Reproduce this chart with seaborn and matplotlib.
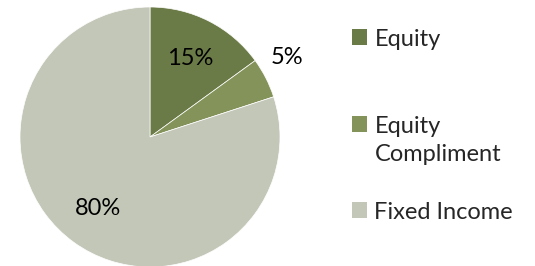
import numpy as np
import matplotlib.pyplot as plt
import seaborn as sns
from matplotlib.patches import Patch

# data
labels = ['Equity', 'Equity\nCompliment', 'Fixed Income']
shares = [15, 5, 80]
colors = ['#6b7b47', '#84935a', '#c3c7b8']

sns.set_theme(style='white')
plt.rcParams['font.family'] = ['Lato', 'DejaVu Sans']

fig = plt.figure(figsize=(5.35, 2.66), dpi=100)
ax = fig.add_axes([20 / 535, -1 / 266, 260 / 535, 260 / 266])

wedges, texts, autotexts = ax.pie(shares, colors=colors, startangle=90, counterclock=False,
                                  autopct='%1.0f%%', pctdistance=0.68,
                                  wedgeprops={'edgecolor': 'white', 'linewidth': 0.5},
                                  textprops={'fontsize': 17, 'color': 'black'})
ax.set_xlim(-1, 1)
ax.set_ylim(-1, 1)
ax.set_aspect('equal')

# small slice label sits outside the pie
w = wedges[1]
mid = np.radians((w.theta1 + w.theta2) / 2 + 3)
autotexts[1].set_position((1.22 * np.cos(mid), 1.22 * np.sin(mid)))

# one legend per entry so the gaps match the original
tops = [29, 116, 202]
for lab, col, top in zip(labels, colors, tops):
    leg = fig.legend([Patch(facecolor=col, edgecolor='none')], [lab], loc='upper left',
                     bbox_to_anchor=(352 / 535, 1 - top / 266), frameon=False, fontsize=17,
                     handlelength=0.65, handleheight=0.65, handletextpad=0.3,
                     borderaxespad=0, borderpad=0)
    for t in leg.get_texts():
        t.set_linespacing(1.42)
    # put the marker next to the first line
    for column in leg._legend_handle_box.get_children():
        for row in column.get_children():
            row.align = 'top'

fig.savefig('out.png', dpi=100)
